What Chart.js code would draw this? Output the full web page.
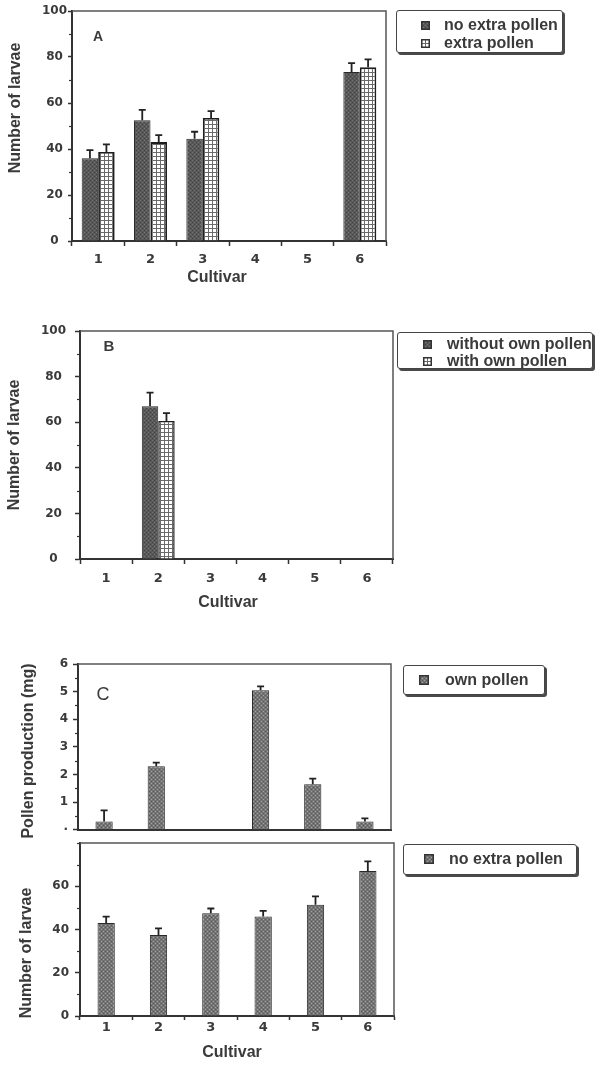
<!DOCTYPE html>
<html>
<head>
<meta charset="utf-8">
<title>Larvae and pollen per cultivar</title>
<script src="https://cdn.jsdelivr.net/npm/chart.js@4/dist/chart.umd.min.js"></script>
<style>
  html, body { margin: 0; padding: 0; background: #fff; }
  body { width: 598px; height: 1067px; position: relative; overflow: hidden; font-family: "Liberation Sans", Arial, sans-serif; }
  canvas.panel { position: absolute; left: 0; }
  .legend { position: absolute; border: 1.5px solid #444; border-radius: 3px; box-shadow: 2px 2px 0 #4a4a4a; background: #fff; box-sizing: border-box; }
  .legend canvas { position: absolute; }
  .legend span { position: absolute; font: bold 16px "Liberation Sans", Arial, sans-serif; color: #3a3a3a; line-height: 18px; white-space: nowrap; }
</style>
</head>
<body>
<canvas id="chartA" class="panel" width="598" height="300" style="top:0px;width:598px;height:300px"></canvas>
<canvas id="chartB" class="panel" width="598" height="320" style="top:300px;width:598px;height:320px"></canvas>
<canvas id="chartC1" class="panel" width="598" height="202" style="top:640px;width:598px;height:202px"></canvas>
<canvas id="chartC2" class="panel" width="598" height="267" style="top:800px;width:598px;height:267px"></canvas>
<script>
// ---- data ----
const cultivars = ['1', '2', '3', '4', '5', '6'];

// A: larvae with and without extra pollen (mean, upper SE)
const noExtraA    = [36, 52.5, 44.5, 0, 0, 73.5];
const noExtraAErr = [3.5, 4.5, 3, 0, 0, 3.8];
const extraA      = [38.7, 43, 53.5, 0, 0, 75.5];
const extraAErr   = [3.3, 3, 3, 0, 0, 3.5];

// B: larvae without / with own pollen
const withoutOwnB    = [0, 67, 0, 0, 0, 0];
const withoutOwnBErr = [0, 6, 0, 0, 0, 0];
const withOwnB       = [0, 60.5, 0, 0, 0, 0];
const withOwnBErr    = [0, 3.5, 0, 0, 0, 0];

// C: pollen production (mg) and larvae without extra pollen
const pollenC     = [0.3, 2.3, 0, 5.05, 1.65, 0.3];
const pollenCErr  = [0.4, 0.13, 0, 0.14, 0.2, 0.11];
const larvaeC     = [43, 37.5, 47.5, 46, 51.5, 67];
const larvaeCErr  = [3, 3, 2.2, 2.6, 3.8, 4.5];

// tick values
const larvaeTicks  = [0, 20, 40, 60, 80, 100];
const larvaeTicksC = [0, 20, 40, 60];
const pollenTicks  = [0, 1, 2, 3, 4, 5, 6];

// ---- fill patterns ----
function makePattern(draw, w, h) {
  const c = document.createElement('canvas');
  c.width = w; c.height = h;
  draw(c.getContext('2d'));
  return document.createElement('canvas').getContext('2d').createPattern(c, 'repeat');
}
const darkPattern = makePattern(g => {
  g.fillStyle = '#585858'; g.fillRect(0, 0, 4, 4);
  g.fillStyle = '#767676'; g.fillRect(0, 0, 1, 1); g.fillRect(2, 2, 1, 1);
  g.fillStyle = '#454545'; g.fillRect(2, 0, 1, 1); g.fillRect(0, 2, 1, 1);
}, 4, 4);
const dotPattern = makePattern(g => {
  g.fillStyle = '#fff'; g.fillRect(0, 0, 4, 4);
  g.fillStyle = '#6a6a6a'; g.fillRect(0, 0, 4, 1); g.fillRect(0, 0, 1, 4);
}, 4, 4);
const greyPattern = makePattern(g => {
  g.fillStyle = '#747474'; g.fillRect(0, 0, 4, 4);
  g.fillStyle = '#a2a2a2'; g.fillRect(1, 1, 1, 1); g.fillRect(3, 3, 1, 1);
  g.fillStyle = '#5a5a5a'; g.fillRect(3, 1, 1, 1); g.fillRect(1, 3, 1, 1);
}, 4, 4);

// ---- plugin: frame, minor ticks, error bars, titles, panel letter ----
const panelDeco = {
  id: 'panelDeco',
  afterDatasetsDraw(chart) {
    const ctx = chart.ctx, ys = chart.scales.y;
    chart.data.datasets.forEach((ds, di) => {
      if (!ds.errorBars) return;
      chart.getDatasetMeta(di).data.forEach((bar, i) => {
        const e = ds.errorBars[i];
        if (!e) return;
        const y0 = ys.getPixelForValue(ds.data[i]);
        const y1 = ys.getPixelForValue(ds.data[i] + e);
        ctx.save();
        ctx.strokeStyle = '#222';
        ctx.lineWidth = 1.8;
        ctx.beginPath();
        ctx.moveTo(bar.x, y0); ctx.lineTo(bar.x, y1);
        ctx.moveTo(bar.x - 3.5, y1); ctx.lineTo(bar.x + 3.5, y1);
        ctx.stroke();
        ctx.restore();
      });
    });
  },
  afterDraw(chart, args, o) {
    const ctx = chart.ctx, ca = chart.chartArea, ys = chart.scales.y;
    ctx.save();
    // top and right edges of the plot frame
    ctx.strokeStyle = '#555';
    ctx.lineWidth = 1.5;
    ctx.beginPath();
    ctx.moveTo(ca.left, ca.top); ctx.lineTo(ca.right, ca.top); ctx.lineTo(ca.right, ca.bottom);
    ctx.stroke();
    // minor ticks on the value axis
    if (o.minorStep) {
      ctx.strokeStyle = '#333';
      ctx.lineWidth = 1.2;
      const majors = ys.ticks.map(t => t.value);
      for (let v = ys.min; v <= ys.max + 1e-9; v += o.minorStep) {
        if (majors.some(m => Math.abs(m - v) < 1e-9)) continue;
        const py = Math.round(ys.getPixelForValue(v)) + 0.5;
        ctx.beginPath(); ctx.moveTo(ca.left - 3, py); ctx.lineTo(ca.left, py); ctx.stroke();
      }
    }
    ctx.fillStyle = '#3a3a3a';
    ctx.textAlign = 'center';
    ctx.textBaseline = 'middle';
    if (o.letter) {
      ctx.font = o.letter.font;
      ctx.fillText(o.letter.text, o.letter.x, o.letter.y);
    }
    if (o.xTitle) {
      ctx.font = 'bold 16px "Liberation Sans", Arial, sans-serif';
      ctx.fillText(o.xTitle.text, o.xTitle.x, o.xTitle.y);
    }
    if (o.yTitle) {
      ctx.font = 'bold 16px "Liberation Sans", Arial, sans-serif';
      ctx.translate(o.yTitle.x, o.yTitle.y);
      ctx.rotate(-Math.PI / 2);
      ctx.fillText(o.yTitle.text, 0, 0);
    }
    ctx.restore();
  }
};
Chart.register(panelDeco);

// ---- scale builders ----
function xScale(height, tickLength, padding, showLabels) {
  return {
    type: 'category',
    offset: true,
    grid: { display: showLabels, drawOnChartArea: false, drawTicks: true, tickLength, tickWidth: 1.5, tickColor: '#333', offset: true },
    border: { display: true, width: 2, color: '#333' },
    ticks: { display: showLabels, color: '#3a3a3a', padding, maxRotation: 0, autoSkip: false,
             font: { family: '"DejaVu Sans", sans-serif', size: 13, weight: 'bold' } },
    afterFit: s => { s.height = height; }
  };
}
function yScale(min, max, values, width, tickLength, padding, crossAlign, label) {
  return {
    min, max,
    afterBuildTicks: s => { s.ticks = values.map(v => ({ value: v })); },
    grid: { display: true, drawOnChartArea: false, drawTicks: true, tickLength, tickWidth: 1.5, tickColor: '#333' },
    border: { display: true, width: 2, color: '#333' },
    ticks: { color: '#3a3a3a', padding, crossAlign,
             font: { family: '"DejaVu Sans", sans-serif', size: 12, weight: 'bold' },
             callback: label || (v => v) },
    afterFit: s => { s.width = width; }
  };
}
function baseOptions(pad, barOpts, scales, deco) {
  return {
    responsive: false,
    animation: false,
    devicePixelRatio: 1,
    layout: { padding: pad },
    datasets: { bar: barOpts },
    plugins: { legend: { display: false }, tooltip: { enabled: false }, panelDeco: deco },
    scales
  };
}

// ---- legends built from dataset labels and fills ----
function addLegend(chart, box, rows) {
  const div = document.createElement('div');
  div.className = 'legend';
  Object.assign(div.style, { left: box.left + 'px', top: box.top + 'px', width: box.width + 'px', height: box.height + 'px' });
  chart.data.datasets.forEach((ds, i) => {
    const r = rows[i];
    const sw = document.createElement('canvas');
    sw.width = r.size; sw.height = r.size;
    const g = sw.getContext('2d');
    g.fillStyle = ds.backgroundColor; g.fillRect(0, 0, r.size, r.size);
    g.strokeStyle = '#333'; g.lineWidth = 1.5; g.strokeRect(0.75, 0.75, r.size - 1.5, r.size - 1.5);
    sw.style.left = (r.sx - box.left) + 'px';
    sw.style.top = (r.cy - r.size / 2 - box.top) + 'px';
    div.appendChild(sw);
    const t = document.createElement('span');
    t.textContent = ds.label;
    t.style.left = (r.tx - box.left) + 'px';
    t.style.top = (r.cy - 9 - box.top) + 'px';
    div.appendChild(t);
  });
  document.body.appendChild(div);
}

// ---- panel A ----
const chartA = new Chart(document.getElementById('chartA'), {
  type: 'bar',
  data: {
    labels: cultivars,
    datasets: [
      { label: 'no extra pollen', data: noExtraA, errorBars: noExtraAErr, backgroundColor: darkPattern, borderColor: '#2a2a2a', borderWidth: 1 },
      { label: 'extra pollen', data: extraA, errorBars: extraAErr, backgroundColor: dotPattern, borderColor: '#1e1e1e', borderWidth: 1.8 }
    ]
  },
  options: baseOptions(
    { left: 0, right: 212, top: 11, bottom: 0 },
    { categoryPercentage: 0.63, barPercentage: 1 },
    { x: xScale(59, 5, 6, true), y: yScale(0, 100, larvaeTicks, 72, 4, 1, 'center') },
    { minorStep: 10,
      letter: { text: 'A', x: 98, y: 37, font: 'bold 14px "Liberation Sans", Arial, sans-serif' },
      yTitle: { text: 'Number of larvae', x: 16, y: 108 },
      xTitle: { text: 'Cultivar', x: 217, y: 278 } }
  )
});
addLegend(chartA, { left: 396, top: 10, width: 167, height: 43 }, [
  { sx: 420, tx: 443, cy: 24, size: 9 },
  { sx: 420, tx: 443, cy: 42, size: 9 }
]);

// ---- panel B ----
const chartB = new Chart(document.getElementById('chartB'), {
  type: 'bar',
  data: {
    labels: cultivars,
    datasets: [
      { label: 'without own pollen', data: withoutOwnB, errorBars: withoutOwnBErr, backgroundColor: darkPattern, borderColor: '#2a2a2a', borderWidth: 1 },
      { label: 'with own pollen', data: withOwnB, errorBars: withOwnBErr, backgroundColor: dotPattern, borderColor: '#1e1e1e', borderWidth: 1.5 }
    ]
  },
  options: baseOptions(
    { left: 0, right: 205, top: 31, bottom: 0 },
    { categoryPercentage: 0.63, barPercentage: 1 },
    { x: xScale(61, 5, 7, true), y: yScale(0, 100, larvaeTicks, 80, 5, 9, 'center') },
    { minorStep: 10,
      letter: { text: 'B', x: 109, y: 47, font: 'bold 15px "Liberation Sans", Arial, sans-serif' },
      yTitle: { text: 'Number of larvae', x: 15, y: 145 },
      xTitle: { text: 'Cultivar', x: 228, y: 303 } }
  )
});
addLegend(chartB, { left: 397, top: 332, width: 196, height: 37 }, [
  { sx: 422, tx: 446, cy: 343, size: 9 },
  { sx: 422, tx: 446, cy: 360, size: 9 }
]);

// ---- panel C, upper: pollen production ----
const chartC1 = new Chart(document.getElementById('chartC1'), {
  type: 'bar',
  data: {
    labels: cultivars,
    datasets: [
      { label: 'own pollen', data: pollenC, errorBars: pollenCErr, backgroundColor: greyPattern, borderColor: '#2a2a2a', borderWidth: 1 }
    ]
  },
  options: baseOptions(
    { left: 0, right: 207, top: 24, bottom: 0 },
    { categoryPercentage: 1, barPercentage: 0.33 },
    { x: xScale(2, 0, 0, false), y: yScale(0, 6, pollenTicks, 78, 5, 5, 'near', v => (v === 0 ? '·' : v)) },
    { minorStep: 0.5,
      letter: { text: 'C', x: 103, y: 55, font: '18px "Liberation Sans", Arial, sans-serif' },
      yTitle: { text: 'Pollen production (mg)', x: 29, y: 111 } }
  )
});
addLegend(chartC1, { left: 403, top: 665, width: 142, height: 30 }, [
  { sx: 418, tx: 444, cy: 679, size: 10 }
]);

// ---- panel C, lower: larvae without extra pollen ----
const chartC2 = new Chart(document.getElementById('chartC2'), {
  type: 'bar',
  data: {
    labels: cultivars,
    datasets: [
      { label: 'no extra pollen', data: larvaeC, errorBars: larvaeCErr, backgroundColor: greyPattern, borderColor: '#2a2a2a', borderWidth: 1 }
    ]
  },
  options: baseOptions(
    { left: 0, right: 204, top: 43, bottom: 0 },
    { categoryPercentage: 1, barPercentage: 0.33 },
    { x: xScale(51, 4, 0, true), y: yScale(0, 80, larvaeTicksC, 80, 5, 6, 'near') },
    { minorStep: 10,
      yTitle: { text: 'Number of larvae', x: 27, y: 153 },
      xTitle: { text: 'Cultivar', x: 232, y: 253 } }
  )
});
addLegend(chartC2, { left: 403, top: 844, width: 174, height: 31 }, [
  { sx: 423, tx: 448, cy: 858, size: 10 }
]);
</script>
</body>
</html>
